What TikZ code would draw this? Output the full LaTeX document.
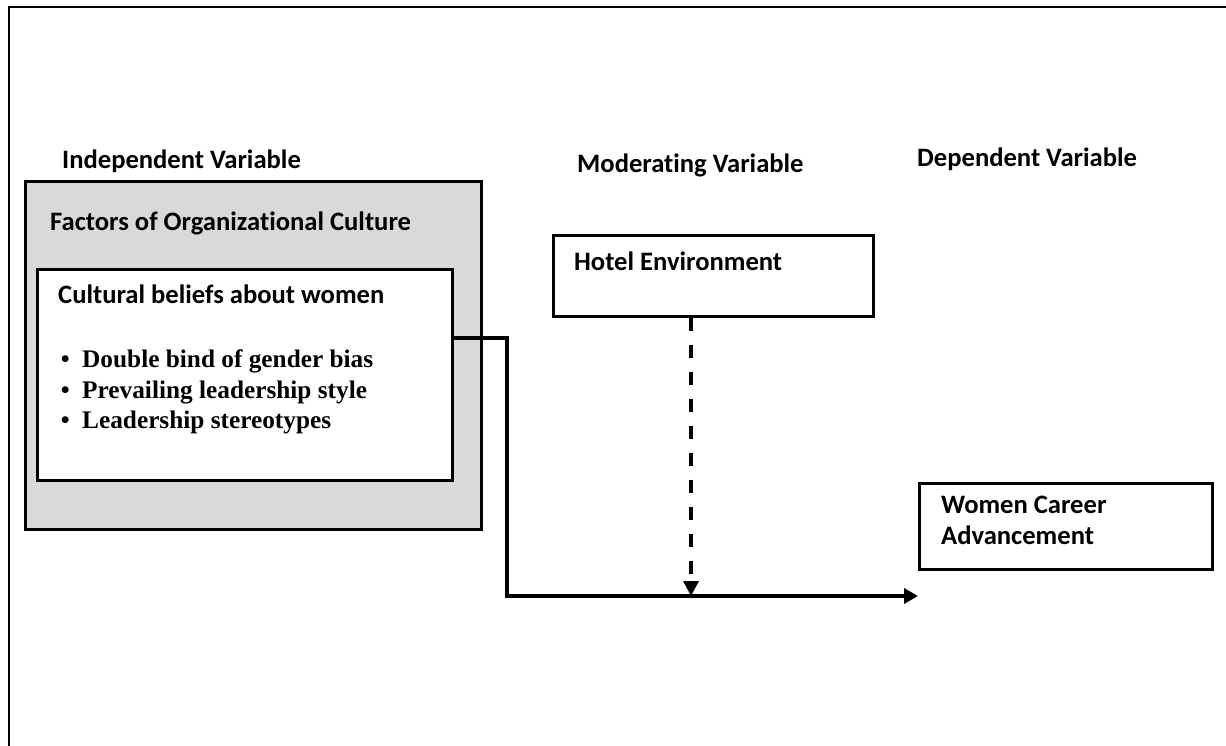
\documentclass[tikz,border=0pt]{standalone}
\usepackage{fontspec}
\setmainfont[Ligatures=NoCommon]{Carlito}
\newfontfamily\tnr{Liberation Serif}
\usetikzlibrary{arrows.meta}
\tikzset{
  frameline/.style={line width=2.6pt},
  boxstyle/.style={draw, line width=2.6pt, anchor=north west, inner sep=0pt},
  head/.style={anchor=base west, inner sep=0pt, font=\fontsize{26.6}{31}\selectfont\bfseries},
  itemtext/.style={anchor=base west, inner sep=0pt, font=\fontsize{25.3}{31}\selectfont\tnr\bfseries},
  conn/.style={line width=3.6pt, line join=miter, -{Triangle[length=14pt,width=15pt]}},
  dashconn/.style={line width=3.4pt, dash pattern=on 13pt off 14pt, -{Triangle[length=15pt,width=15pt]}},
}
\begin{document}
\begin{tikzpicture}[x=1pt,y=-1pt]
\useasboundingbox (0,0) rectangle (1226,746);
% outer frame (left and top edges visible)
\draw[frameline] (9,746) -- (9,7) -- (1226,7);
% headings
\node[head] (iv) at (62,169) {Independent Variable};
\node[head] (mv) at (577,173) {Moderating Variable};
\node[head] (dv) at (917,167) {Dependent Variable};
% gray box
\node[boxstyle, fill={rgb,255:red,217;green,217;blue,217}, minimum width=456pt, minimum height=348pt] (gray) at (24,180) {};
\node[head] (foc) at (50,230) {Factors of Organizational Culture};
% inner white box
\node[boxstyle, fill=white, minimum width=415pt, minimum height=211pt] (inner) at (36,268) {};
\node[head] (cbw) at (58,303) {Cultural beliefs about women};
\node[itemtext] (b1) at (82,367) {Double bind of gender bias};
\node[itemtext] (b2) at (82,398) {Prevailing leadership style};
\node[itemtext] (b3) at (82,428) {Leadership stereotypes};
\foreach \n in {b1,b2,b3}
  \node[anchor=base east, inner sep=0pt, font=\fontsize{25.3}{31}\selectfont\tnr\bfseries] at ([xshift=-12pt]\n.base west) {\textbullet};
% hotel box
\node[boxstyle, minimum width=320pt, minimum height=81pt] (hotel) at (552,234) {};
\node[head] (het) at (574,270) {Hotel Environment};
% women box
\node[boxstyle, minimum width=293pt, minimum height=86pt] (women) at (918,482) {};
\node[head] (wca) at (941,513) {Women Career};
\node[head] (wcb) at (941,544) {Advancement};
% connectors
\coordinate (c1) at (0,338);
\coordinate (bend) at (507,596);
\coordinate (meet) at (691,596);
\draw[conn] (inner.east |- c1) -- (bend |- c1) -- (bend) -- (women.west |- bend);
\draw[dashconn] (hotel.south -| meet) -- (meet);
\end{tikzpicture}
\end{document}
